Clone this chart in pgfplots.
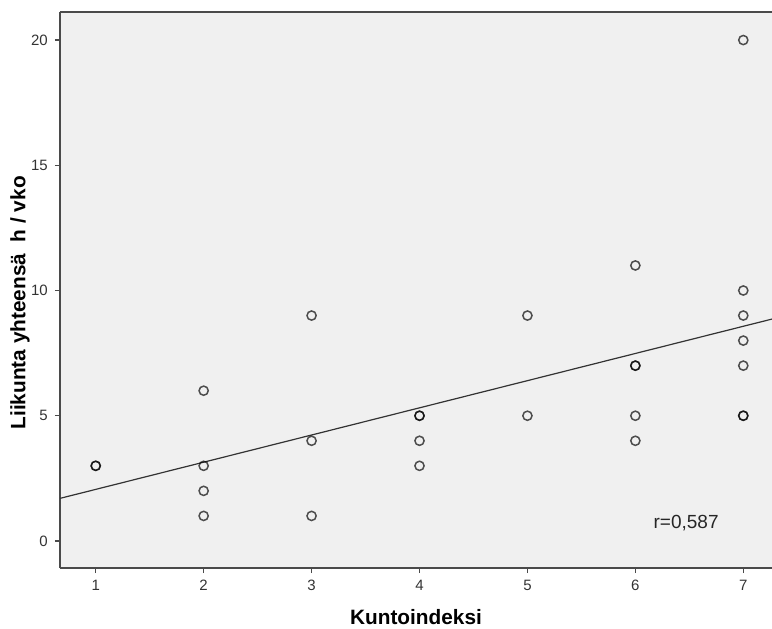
\documentclass[border=0pt]{standalone}
\usepackage{pgfplots}
\pgfplotsset{compat=1.18}
\usepackage{fontspec}
\setmainfont{Liberation Sans}
\definecolor{bg}{HTML}{F0F0F0}
\definecolor{axc}{HTML}{4A4A4A}
\begin{document}
\begin{tikzpicture}
\begin{axis}[
 scale only axis, width=356pt, height=278pt,
 xmin=0.669, xmax=7.266, ymin=-1.08, ymax=21.12,
 axis lines=left, axis line style={-, draw=axc, line width=0.9pt},
 axis background/.style={fill=bg},
 clip=false,
 xtick={1,2,3,4,5,6,7}, ytick={0,5,10,15,20},
 minor tick num=0,
 tick align=outside, major tick length=2.6pt,
 tick style={draw=axc, line width=0.6pt},
 tick label style={font=\fontsize{7.5}{8}\selectfont, text=black!80},
 /pgf/number format/assume math mode=true,
 xlabel={Kuntoindeksi}, ylabel={Liikunta yhteensä\ \ h / vko},
 label style={font=\fontsize{10.4}{12}\selectfont\bfseries, text=black},
 xlabel style={at={(axis description cs:0.5,-0.0881)}, anchor=center},
 ylabel style={at={(axis description cs:-0.0562,0.477)}, anchor=center},
]
\draw[axc, line width=0.9pt] (rel axis cs:0,1) -- (rel axis cs:1,1);
% regression line
\addplot[no marks, draw=black!80, line width=0.6pt] coordinates {(0.669,1.70) (7.266,8.86)};
% observations (duplicates listed twice)
\addplot[only marks, mark=o, mark size=2.3pt,
  mark options={draw=black, draw opacity=0.68, line width=0.75pt}] coordinates {
 (1,3) (1,3)
 (2,6) (2,3) (2,2) (2,1)
 (3,9) (3,4) (3,1)
 (4,5) (4,5) (4,4) (4,3)
 (5,9) (5,5)
 (6,11) (6,7) (6,7) (6,5) (6,4)
 (7,20) (7,10) (7,9) (7,8) (7,7) (7,5) (7,5)
};
\node[font=\fontsize{9.5}{11}\selectfont, text=black!85, anchor=center] at (axis cs:6.47,0.72) {r=0,587};
\end{axis}
\pgfresetboundingbox
\path (-30pt,-30pt) rectangle (356pt,284pt);
\end{tikzpicture}
\end{document}
